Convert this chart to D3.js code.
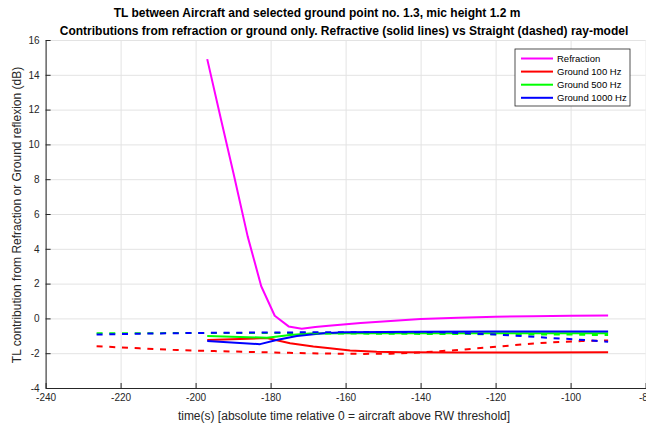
<!DOCTYPE html>
<html>
<head>
<meta charset="utf-8">
<script src="https://cdn.jsdelivr.net/npm/d3@7"></script>
<style>
  body { margin: 0; background: #fff; }
  svg { display: block; font-family: "Liberation Sans", Arial, sans-serif; }
  .grid line { stroke: #e3e3e3; stroke-width: 1; }
  .grid path { display: none; }
  .axis path, .axis line { stroke: #262626; stroke-width: 1; }
  .axis text { fill: #262626; font-size: 10px; }
</style>
</head>
<body>
<div id="chart"></div>
<script>
// data
const xTicks = [-240, -220, -200, -180, -160, -140, -120, -100, -80];
const yTicks = [-4, -2, 0, 2, 4, 6, 8, 10, 12, 14, 16];

const refrT = [-196.9, -193.3, -189.9, -186.1, -182.5, -178.9, -175.2, -171.7, -168.1, -164.5, -156, -150, -140, -130, -120, -110, -100, -90];
const refrV = [14.9, 11.5, 8.34, 4.7, 1.85, 0.15, -0.46, -0.6, -0.5, -0.42, -0.26, -0.18, -0.04, 0.04, 0.1, 0.13, 0.15, 0.16];

const solidT100 = [-196.9, -181, -174.8, -168.6, -164.2, -158.8, -151.7, -145, -130, -110, -90];
const solidV100 = [-1.24, -1.13, -1.43, -1.62, -1.72, -1.85, -1.92, -1.95, -1.96, -1.96, -1.95];
const solidT500 = [-196.9, -181, -174.8, -169.5, -160, -140, -120, -100, -90];
const solidV500 = [-1.01, -1.11, -0.95, -0.87, -0.86, -0.86, -0.86, -0.86, -0.86];
const solidT1000 = [-196.9, -182.8, -178.4, -173, -166, -160, -140, -120, -100, -90];
const solidV1000 = [-1.3, -1.48, -1.24, -1.01, -0.85, -0.79, -0.77, -0.76, -0.76, -0.76];

const dashT100 = [-226.4, -215, -205, -195, -185, -175, -165, -155, -148, -140, -131, -122, -113, -105, -97, -90];
const dashV100 = [-1.6, -1.72, -1.82, -1.88, -1.93, -1.98, -2.02, -2.04, -2.03, -1.96, -1.83, -1.67, -1.5, -1.37, -1.3, -1.27];
const dashT500 = [-226.4, -200, -180, -160, -140, -120, -100, -90];
const dashV500 = [-0.86, -0.84, -0.84, -0.87, -0.89, -0.91, -0.93, -0.96];
const dashT1000 = [-226.4, -215, -205, -190, -170, -150, -135, -126, -119.7, -113, -106.4, -99.3, -90];
const dashV1000 = [-0.93, -0.88, -0.85, -0.82, -0.8, -0.79, -0.8, -0.88, -0.93, -1.01, -1.11, -1.2, -1.34];

const legendNames = ["Refraction", "Ground 100 Hz", "Ground 500 Hz", "Ground 1000 Hz"];
const colors = ["#ff00ff", "#ff0000", "#00ff00", "#0000ff"];

const W = 646, H = 426;
const plotL = 45.6, plotR = 645.6, plotT = 40, plotB = 388;

const svg = d3.select("#chart").append("svg")
    .attr("width", W)
    .attr("height", H);

const x = d3.scaleLinear().domain([-240, -80]).range([plotL, plotR]);
const y = d3.scaleLinear().domain([-4, 16]).range([plotB, plotT]);

// grid lines
svg.append("g")
    .attr("class", "grid")
    .attr("transform", `translate(0,${plotB})`)
    .call(d3.axisBottom(x).tickValues(xTicks).tickSize(-(plotB - plotT)).tickFormat(""));
svg.append("g")
    .attr("class", "grid")
    .attr("transform", `translate(${plotL},0)`)
    .call(d3.axisLeft(y).tickValues(yTicks).tickSize(-(plotR - plotL)).tickFormat(""));

// series
const toPts = (t, v) => t.map((d, i) => [d, v[i]]);
const line = d3.line().x(d => x(d[0])).y(d => y(d[1]));

const solids = [
    { pts: toPts(refrT, refrV), c: colors[0] },
    { pts: toPts(solidT100, solidV100), c: colors[1] },
    { pts: toPts(solidT500, solidV500), c: colors[2] },
    { pts: toPts(solidT1000, solidV1000), c: colors[3] }
];
const dashes = [
    { pts: toPts(dashT100, dashV100), c: colors[1] },
    { pts: toPts(dashT500, dashV500), c: colors[2] },
    { pts: toPts(dashT1000, dashV1000), c: colors[3] }
];

svg.append("g").selectAll("path")
    .data(solids)
    .enter().append("path")
    .attr("d", d => line(d.pts))
    .attr("fill", "none")
    .attr("stroke", d => d.c)
    .attr("stroke-width", 2)
    .attr("stroke-linejoin", "round");

svg.append("g").selectAll("path")
    .data(dashes)
    .enter().append("path")
    .attr("d", d => line(d.pts))
    .attr("fill", "none")
    .attr("stroke", d => d.c)
    .attr("stroke-width", 2)
    .attr("stroke-dasharray", "6,6.7");

// axes (ticks pointing inward, plain hyphen minus like the original)
const fmt = d => String(d);
const xAxis = svg.append("g")
    .attr("class", "axis")
    .attr("transform", `translate(0,${plotB})`)
    .call(d3.axisBottom(x).tickValues(xTicks).tickFormat(fmt).tickSizeInner(-5).tickSizeOuter(0));
xAxis.selectAll("text").attr("dy", "0.71em").attr("y", 6);

svg.append("g")
    .attr("class", "axis")
    .attr("transform", `translate(${plotL},0)`)
    .call(d3.axisLeft(y).tickValues(yTicks).tickFormat(fmt).tickSizeInner(-5).tickSizeOuter(0))
    .selectAll("text").attr("x", -6);

// titles
svg.append("text")
    .attr("x", 317).attr("y", 16.5)
    .attr("text-anchor", "middle")
    .attr("font-size", 12).attr("font-weight", "bold")
    .text("TL between Aircraft and selected ground point no. 1.3, mic height 1.2 m");
svg.append("text")
    .attr("x", 344).attr("y", 34.5)
    .attr("text-anchor", "middle")
    .attr("font-size", 12).attr("font-weight", "bold")
    .text("Contributions from refraction or ground only. Refractive (solid lines) vs Straight (dashed) ray-model");

svg.append("text")
    .attr("x", 344).attr("y", 420)
    .attr("text-anchor", "middle")
    .attr("font-size", 12).attr("fill", "#262626")
    .text("time(s) [absolute time relative 0 = aircraft above RW threshold]");

svg.append("text")
    .attr("transform", `translate(21,215) rotate(-90)`)
    .attr("text-anchor", "middle")
    .attr("font-size", 12).attr("fill", "#262626")
    .text("TL contribution from Refraction or Ground reflexion (dB)");

// legend
const lg = svg.append("g").attr("transform", "translate(515,49)");
lg.append("rect")
    .attr("width", 115).attr("height", 57)
    .attr("fill", "#fff").attr("stroke", "#262626").attr("stroke-width", 0.8);
const item = lg.selectAll(".item")
    .data(legendNames)
    .enter().append("g")
    .attr("transform", (d, i) => `translate(0,${9.5 + i * 13.1})`);
item.append("line")
    .attr("x1", 6).attr("x2", 38)
    .attr("stroke", (d, i) => colors[i])
    .attr("stroke-width", 2);
item.append("text")
    .attr("x", 42).attr("dy", "0.35em")
    .attr("font-size", 9.5).attr("fill", "#000")
    .text(d => d);
</script>
</body>
</html>
